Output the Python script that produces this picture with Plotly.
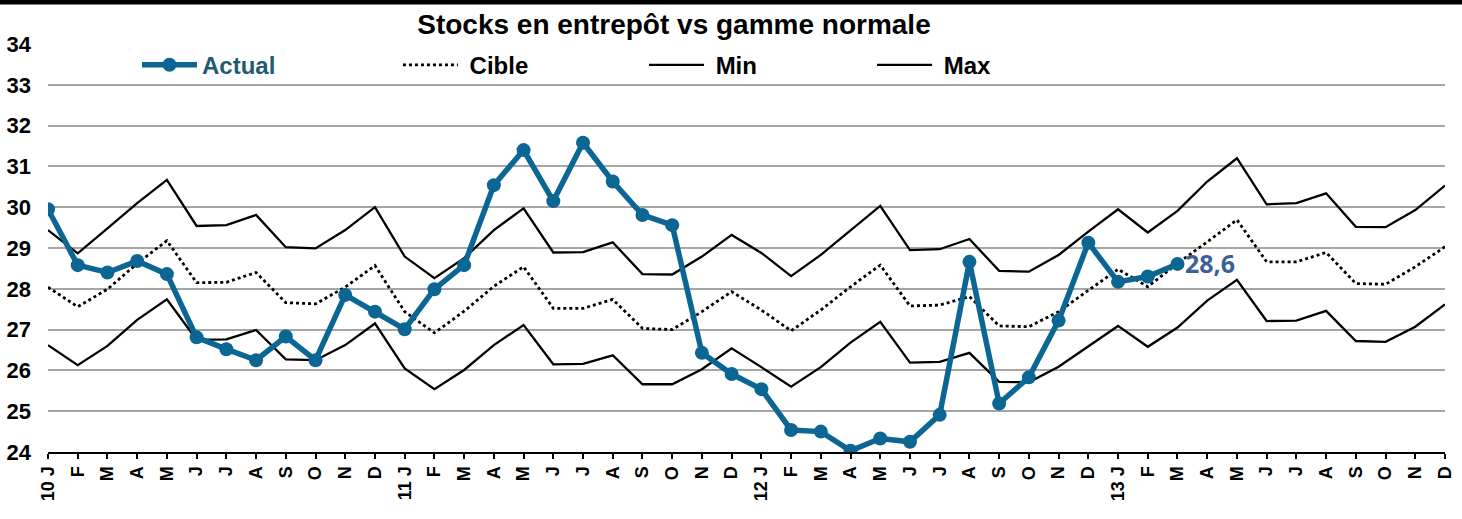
import plotly.graph_objects as go

months = ["J", "F", "M", "A", "M", "J", "J", "A", "S", "O", "N", "D"]
years = ["10", "11", "12", "13"]
tick_labels = []
for y in years:
    for i, m in enumerate(months):
        tick_labels.append(f"{y} {m}" if i == 0 else m)
x_idx = list(range(len(tick_labels)))

actual = [29.95, 28.58, 28.40, 28.68, 28.36, 26.81, 26.52, 26.25, 26.83, 26.25, 27.85, 27.44,
          27.01, 27.99, 28.58, 30.54, 31.40, 30.15, 31.58, 30.63, 29.81, 29.56, 26.43, 25.91,
          25.54, 24.54, 24.50, 24.03, 24.33, 24.25, 24.91, 28.66, 25.19, 25.83, 27.22, 29.13,
          28.17, 28.30, 28.61]

cible = [28.04, 27.56, 27.99, 28.62, 29.18, 28.15, 28.16, 28.40, 27.66, 27.63, 28.04, 28.57,
         27.44, 26.92, 27.45, 28.06, 28.54, 27.52, 27.52, 27.74, 27.03, 27.00, 27.44, 27.93,
         27.48, 26.97, 27.48, 28.05, 28.58, 27.58, 27.60, 27.81, 27.09, 27.07, 27.44, 27.97,
         28.48, 28.05, 28.62, 29.15, 29.69, 28.66, 28.66, 28.89, 28.13, 28.11, 28.54, 29.03]

vmin = [26.62, 26.13, 26.60, 27.24, 27.74, 26.75, 26.76, 26.99, 26.27, 26.25, 26.62, 27.15,
        26.05, 25.54, 26.01, 26.62, 27.11, 26.15, 26.16, 26.37, 25.66, 25.66, 26.03, 26.54,
        26.08, 25.60, 26.08, 26.68, 27.19, 26.19, 26.21, 26.43, 25.72, 25.71, 26.09, 26.58,
        27.09, 26.58, 27.05, 27.71, 28.22, 27.21, 27.22, 27.46, 26.72, 26.70, 27.07, 27.62]

vmax = [29.44, 28.87, 29.48, 30.10, 30.67, 29.54, 29.56, 29.81, 29.02, 28.99, 29.44, 30.00,
        28.79, 28.26, 28.75, 29.44, 29.97, 28.89, 28.90, 29.14, 28.36, 28.35, 28.79, 29.32,
        28.88, 28.31, 28.83, 29.44, 30.03, 28.95, 28.97, 29.22, 28.44, 28.42, 28.83, 29.40,
        29.95, 29.38, 29.91, 30.63, 31.20, 30.07, 30.10, 30.34, 29.52, 29.51, 29.93, 30.53]

y_ticks = list(range(24, 35))
last_label = "28,6"

BLUE = "#0B6694"
FONT = "Liberation Sans, Arial, sans-serif"
NB = "\u00a0"

fig = go.Figure()
fig.add_trace(go.Scatter(x=x_idx, y=vmax, mode="lines", name=f"<b>{NB}Max</b>",
                         line=dict(color="black", width=2.3), legend="legend4", showlegend=True))
fig.add_trace(go.Scatter(x=x_idx, y=vmin, mode="lines", name=f"<b>{NB}Min</b>",
                         line=dict(color="black", width=2.3), legend="legend3", showlegend=True))
fig.add_trace(go.Scatter(x=x_idx, y=cible, mode="lines", name=f"<b>{NB}Cible</b>",
                         line=dict(color="black", width=2.8, dash="dot"), legend="legend2",
                         showlegend=True))
fig.add_trace(go.Scatter(x=x_idx[:len(actual)], y=actual, mode="lines+markers",
                         name="<b>Actual</b>",
                         line=dict(color=BLUE, width=5.5), marker=dict(color=BLUE, size=14),
                         legend="legend", showlegend=True))

fig.add_annotation(x=x_idx[len(actual) - 1], y=actual[-1], text=f"<b>{last_label}</b>",
                   showarrow=False, xanchor="left", xshift=6, yshift=1,
                   font=dict(family="Open Sans, sans-serif", size=25, color="#3B6096"))

def leg(xp, color):
    return dict(x=xp, y=0.948, xanchor="left", yanchor="middle", orientation="h",
                bgcolor="rgba(0,0,0,0)", itemwidth=55,
                font=dict(family=FONT, size=24, color=color), tracegroupgap=0)

fig.update_layout(
    width=1462, height=519,
    paper_bgcolor="white", plot_bgcolor="white",
    showlegend=True,
    margin=dict(l=48, r=17, t=44, b=67, autoexpand=False),
    title=dict(text="<b>Stocks en entrepôt vs gamme normale</b>", x=0.461, xanchor="center",
               y=0.954, yanchor="middle", font=dict(family=FONT, size=28, color="black")),
    legend=leg(0.0637, "#1F5C73"),
    legend2=leg(0.2505, "black"),
    legend3=leg(0.4266, "black"),
    legend4=leg(0.5899, "black"),
    xaxis=dict(range=[0, len(tick_labels) - 1], tickmode="array", tickvals=x_idx,
               ticktext=[f"<b>{t}</b>" for t in tick_labels], tickangle=-90,
               tickfont=dict(family=FONT, size=18, color="black"),
               showline=True, linecolor="black", linewidth=2,
               ticks="outside", ticklen=5, tickwidth=2, tickcolor="black",
               showgrid=False, zeroline=False, automargin=False),
    yaxis=dict(range=[24, 34], tickmode="array", tickvals=y_ticks,
               ticktext=[f"<b>{v}</b>" for v in y_ticks],
               tickfont=dict(family=FONT, size=22, color="black"),
               showgrid=True, gridcolor="#A6A6A6", gridwidth=1.6,
               showline=False, zeroline=False, ticklabelstandoff=16, automargin=False),
)

# black band across top of the picture
fig.add_shape(type="rect", xref="paper", yref="paper", x0=-0.04, x1=1.02,
              y0=1.097, y1=1.12, fillcolor="black", line=dict(width=0), layer="above")

fig.write_html("out.html", config={"displayModeBar": False},
               post_script="document.body.style.margin='0px';document.body.style.padding='0px';")
